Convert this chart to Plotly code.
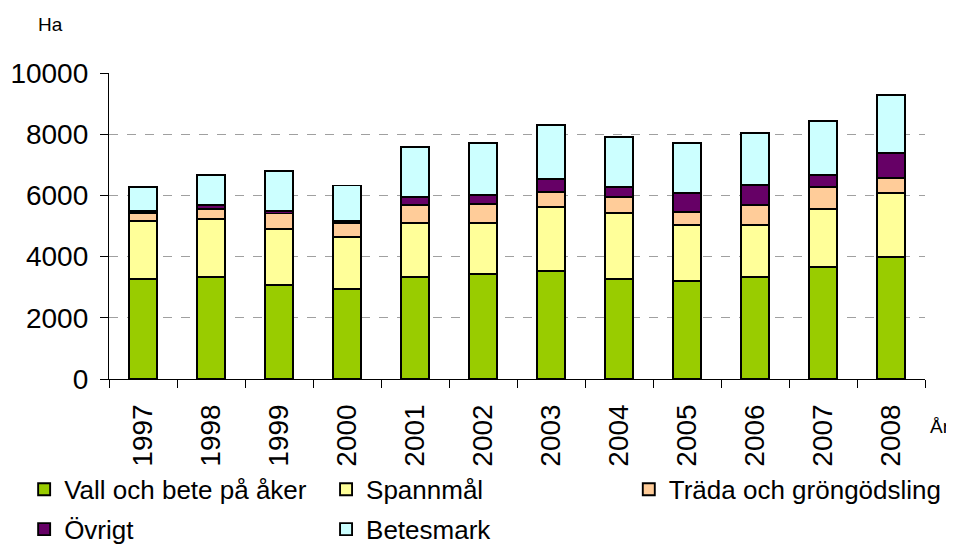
import plotly.graph_objects as go

years = ["1997", "1998", "1999", "2000", "2001", "2002", "2003", "2004", "2005", "2006", "2007", "2008"]
vall = [3270, 3340, 3070, 2950, 3330, 3440, 3530, 3270, 3210, 3340, 3660, 3990]
spannmal = [1890, 1890, 1830, 1680, 1770, 1660, 2090, 2150, 1820, 1690, 1890, 2090]
trada = [260, 316, 510, 460, 580, 630, 500, 520, 430, 650, 720, 500]
ovrigt = [60, 130, 70, 65, 270, 280, 420, 330, 610, 650, 390, 810]
betesmark = [790, 990, 1320, 1170, 1630, 1700, 1760, 1630, 1640, 1710, 1760, 1900]
y_ticks = [0, 2000, 4000, 6000, 8000, 10000]

series = [
    ("Vall och bete på åker", vall, "#99CC00", "legend"),
    ("Spannmål", spannmal, "#FFFF99", "legend2"),
    ("Träda och gröngödsling", trada, "#FFCC99", "legend3"),
    ("Övrigt", ovrigt, "#660066", "legend"),
    ("Betesmark", betesmark, "#CCFFFF", "legend2"),
]

FONT = "Liberation Sans, Arial, sans-serif"

fig = go.Figure()
for name, vals, col, leg in series:
    fig.add_trace(go.Bar(
        x=years, y=vals, name=name, legend=leg, legendgroup=name,
        marker=dict(color=col, line=dict(color="#000000", width=1.9)),
    ))

leg_common = dict(
    orientation="v", traceorder="grouped", tracegroupgap=3,
    yanchor="top", y=-0.284, xanchor="left",
    font=dict(size=26, family=FONT, color="#000000"),
    bgcolor="rgba(0,0,0,0)", itemwidth=30,
)

# page body has an 8px margin, so the figure is 8px smaller than the window
fig.update_layout(
    width=946, height=538,
    barmode="stack", bargap=0.58,
    paper_bgcolor="white", plot_bgcolor="white",
    margin=dict(l=101, r=29, t=65, b=167, autoexpand=False),
    font=dict(family=FONT, color="#000000", size=26),
    showlegend=True,
    legend=dict(x=-0.104, **leg_common),
    legend2=dict(x=0.266, **leg_common),
    legend3=dict(x=0.637, **leg_common),
    annotations=[
        dict(text="Ha", xref="paper", yref="paper", x=-0.0723, y=1.157,
             xanchor="center", yanchor="middle", showarrow=False,
             font=dict(size=19, family=FONT)),
        dict(text="År", xref="paper", yref="paper", x=1.004, y=-0.156,
             xanchor="left", yanchor="middle", showarrow=False,
             font=dict(size=19, family=FONT)),
    ],
)

fig.update_xaxes(
    type="category", showline=True, linecolor="#000000", linewidth=1.3,
    ticks="outside", tickson="boundaries", ticklen=8, tickcolor="#000000",
    tickangle=-90, tickfont=dict(size=28, family=FONT),
    showgrid=False, ticklabelstandoff=13,
)
fig.update_yaxes(
    range=[0, 10000], tickvals=y_ticks, tickformat="d",
    showline=True, linecolor="#000000", linewidth=1.3,
    ticks="outside", ticklen=8, tickcolor="#000000",
    tickfont=dict(size=28, family=FONT),
    showgrid=True, gridcolor="#A0A0A0", griddash="dash", gridwidth=1,
    zeroline=False, ticklabelstandoff=6,
)

fig.write_html("out.html")
